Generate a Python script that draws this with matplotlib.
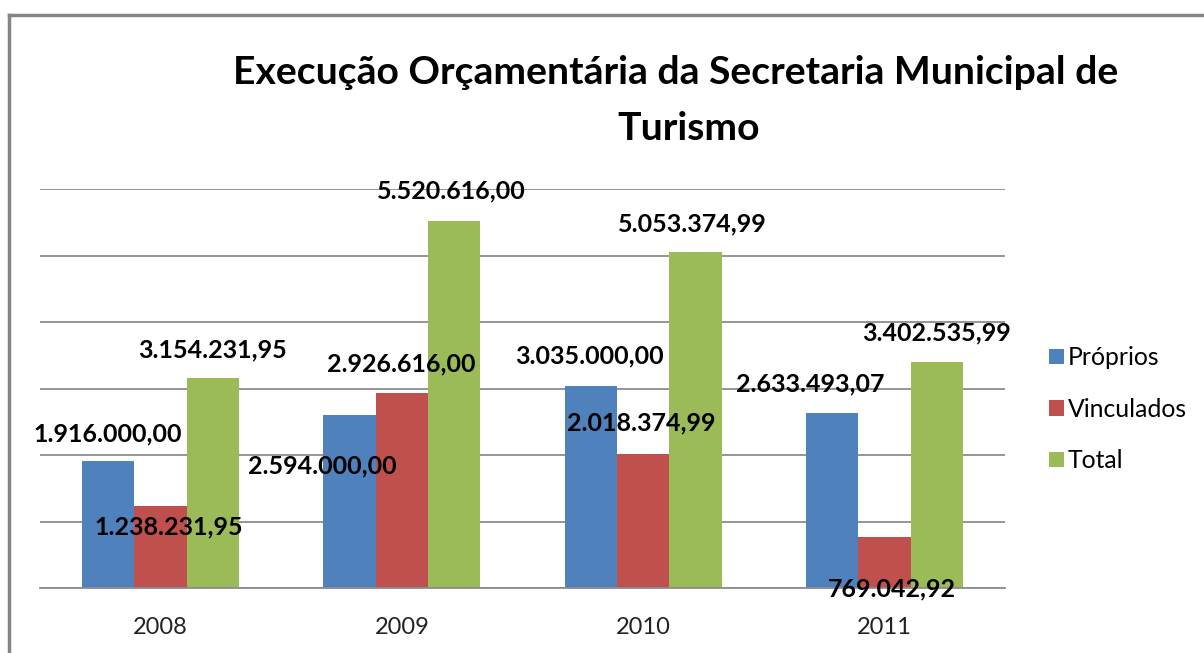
import numpy as np
import matplotlib
matplotlib.use('Agg')
import matplotlib.pyplot as plt
from matplotlib.lines import Line2D

plt.rcParams['font.family'] = ['Lato', 'DejaVu Sans']

# dados
anos = ['2008', '2009', '2010', '2011']
proprios = [1916000.00, 2594000.00, 3035000.00, 2633493.07]
vinculados = [1238231.95, 2926616.00, 2018374.99, 769042.92]
total = [3154231.95, 5520616.00, 5053374.99, 3402535.99]
series = ['Próprios', 'Vinculados', 'Total']
cores = ['#4F81BD', '#C0504D', '#9BBB59']

# deslocamento dos rótulos (pixels, relativo ao topo da barra)
desloc = [
    [(-1, 27), (-27, -50), (-1, 30), (-22, 29)],
    [(8, -21), (-1, 29), (-2, 31), (8, -52)],
    [(0, 28), (-3, 30), (-3, 28), (0, 29)],
]


def fmt(v):
    s = f'{v:,.2f}'
    return s.replace(',', 'X').replace('.', ',').replace('X', '.')


W, H = 1204, 653
fig = plt.figure(figsize=(W / 100, H / 100), dpi=100)
ax = fig.add_axes([40 / W, (H - 588) / H, 965 / W, 399 / H])

x = np.arange(len(anos))
larg = 0.217
for i, (nome, vals) in enumerate(zip(series, [proprios, vinculados, total])):
    pos = x + (i - 1) * larg
    ax.bar(pos, vals, width=larg, color=cores[i], label=nome, zorder=2)
    for j, v in enumerate(vals):
        dx, dy = desloc[i][j]
        ax.annotate(fmt(v), (pos[j], v), xytext=(dx, dy), textcoords='offset pixels',
                    ha='center', va='center', fontsize=18, fontweight='bold',
                    color='black', zorder=3)

ax.set_xlim(-0.5, 3.5)
ax.set_ylim(0, 6000000)
ax.set_yticks(np.arange(0, 6000001, 1000000))
ax.set_yticklabels([])
ax.tick_params(axis='y', length=0)
ax.tick_params(axis='x', length=0, pad=21, labelsize=17, labelcolor='#222222')
ax.set_xticks(x)
ax.set_xticklabels(anos)
ax.grid(axis='y', color='#8c8c8c', linewidth=1.3, zorder=0)
for s in ['top', 'right', 'left']:
    ax.spines[s].set_visible(False)
ax.spines['bottom'].set_color('#8c8c8c')
ax.spines['bottom'].set_linewidth(1.3)

fig.text(676 / W, 1 - 73 / H, 'Execução Orçamentária da Secretaria Municipal de',
         ha='center', va='center', fontsize=28.2, fontweight='bold')
fig.text(689 / W, 1 - 128 / H, 'Turismo',
         ha='center', va='center', fontsize=28.2, fontweight='bold')

fig.legend(loc='upper left', bbox_to_anchor=(1037 / W, 1 - 334 / H), frameon=False,
           fontsize=17.8, handlelength=0.6, handleheight=0.6, handletextpad=0.15,
           labelspacing=1.15, borderpad=0)

# moldura
fig.add_artist(Line2D([9 / W, 1], [1 - 15 / H, 1 - 15 / H], color='#858585', linewidth=2.5))
fig.add_artist(Line2D([9 / W, 9 / W], [0, 1 - 15 / H], color='#858585', linewidth=2.5))

fig.savefig('out.png', dpi=100)
